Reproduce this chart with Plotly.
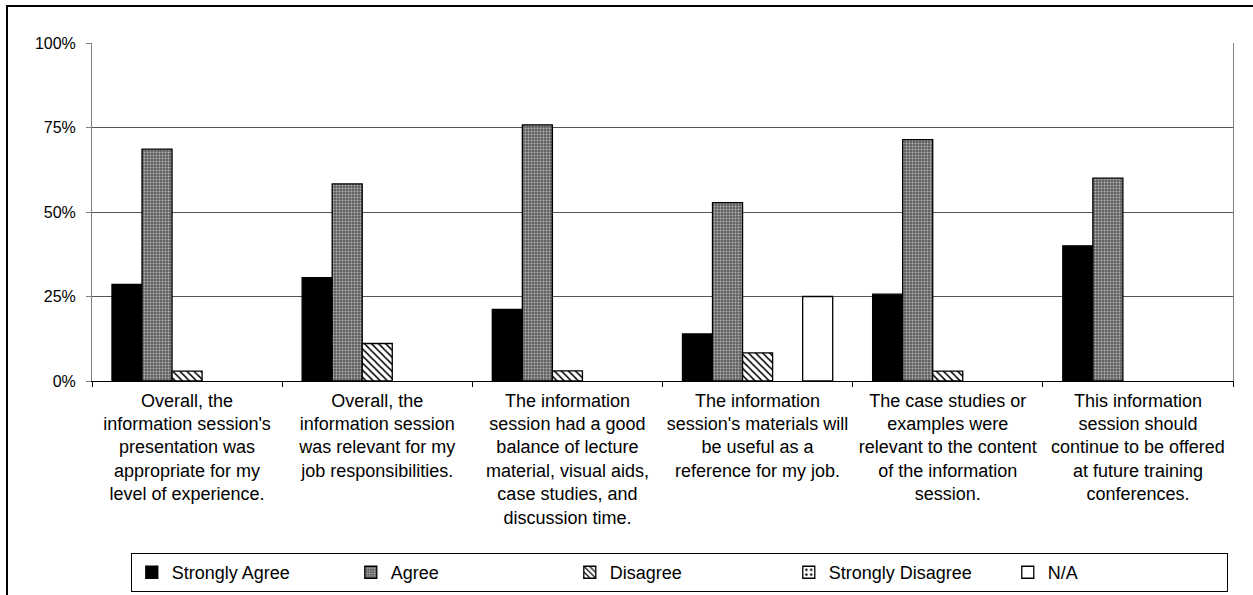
import plotly.graph_objects as go

categories = [
    "Overall, the<br>information session's<br>presentation was<br>appropriate for my<br>level of experience.",
    "Overall, the<br>information session<br>was relevant for my<br>job responsibilities.",
    "The information<br>session had a good<br>balance of lecture<br>material, visual aids,<br>case studies, and<br>discussion time.",
    "The information<br>session's materials will<br>be useful as a<br>reference for my job.",
    "The case studies or<br>examples were<br>relevant to the content<br>of the information<br>session.",
    "This information<br>session should<br>continue to be offered<br>at future training<br>conferences.",
]

strongly_agree = [28.6, 30.6, 21.2, 13.9, 25.7, 40.0]
agree = [68.6, 58.3, 75.8, 52.8, 71.4, 60.0]
disagree = [2.9, 11.1, 3.0, 8.3, 2.9, None]
strongly_disagree = [None, None, None, None, None, None]
na = [None, None, None, 25.0, None, None]

y_ticks = [0, 25, 50, 75, 100]
y_tick_labels = ["0%", "25%", "50%", "75%", "100%"]

line = dict(color="black", width=1.3)
fig = go.Figure()
fig.add_trace(go.Bar(name="Strongly Agree", x=categories, y=strongly_agree,
                     marker=dict(color="black", line=line)))
fig.add_trace(go.Bar(name="Agree", x=categories, y=agree,
                     marker=dict(color="#5f5f5f", line=line,
                                 pattern=dict(shape=".", fgcolor="#b5b5b5", bgcolor="#5f5f5f",
                                              size=3, solidity=0.35, fillmode="replace"))))
fig.add_trace(go.Bar(name="Disagree", x=categories, y=disagree,
                     marker=dict(color="white", line=line,
                                 pattern=dict(shape="\\", fgcolor="black", bgcolor="white",
                                              size=5, solidity=0.3, fillmode="replace"))))
fig.add_trace(go.Bar(name="Strongly Disagree", x=categories, y=strongly_disagree,
                     marker=dict(color="white", line=line,
                                 pattern=dict(shape=".", fgcolor="black", bgcolor="white",
                                              size=6, solidity=0.2, fillmode="replace"))))
fig.add_trace(go.Bar(name="N/A", x=categories, y=na,
                     marker=dict(color="white", line=line)))

fig.update_layout(
    width=1253, height=595,
    margin=dict(l=92, r=20, t=43, b=214, autoexpand=False),
    paper_bgcolor="white", plot_bgcolor="white",
    barmode="group", bargap=0.21, bargroupgap=0,
    font=dict(family="Arial, Liberation Sans, sans-serif", size=17, color="black"),
    showlegend=True,
    legend=dict(orientation="h", x=0.034, xanchor="left", y=-0.509, yanchor="top",
                bordercolor="black", borderwidth=1, entrywidth=174, entrywidthmode="pixels",
                font=dict(size=18), traceorder="normal", itemwidth=30),
    xaxis=dict(type="category", showline=True, linecolor="black", linewidth=1,
               ticks="outside", tickson="boundaries", ticklen=5, tickcolor="black",
               tickangle=0, showgrid=False, automargin=False, tickfont=dict(size=18),
               ticklabelstandoff=3),
    yaxis=dict(range=[0, 100], tickvals=y_ticks, ticktext=y_tick_labels,
               showline=True, linecolor="#808080", mirror=True, ticks="outside",
               ticklen=5, tickcolor="#808080", showgrid=True, gridcolor="#555555",
               gridwidth=1, zeroline=False, automargin=False, tickfont=dict(size=16),
               ticklabelstandoff=7),
)

# outer chart border (extends beyond the visible page right and bottom)
fig.add_shape(type="rect", xref="paper", yref="paper",
              x0=-0.0745, x1=1.05, y0=-0.7, y1=1.1095,
              line=dict(color="black", width=2), fillcolor="rgba(0,0,0,0)", layer="below")

fig.write_html("out.html", config={"displayModeBar": False},
               post_script="document.body.style.margin='0';")
